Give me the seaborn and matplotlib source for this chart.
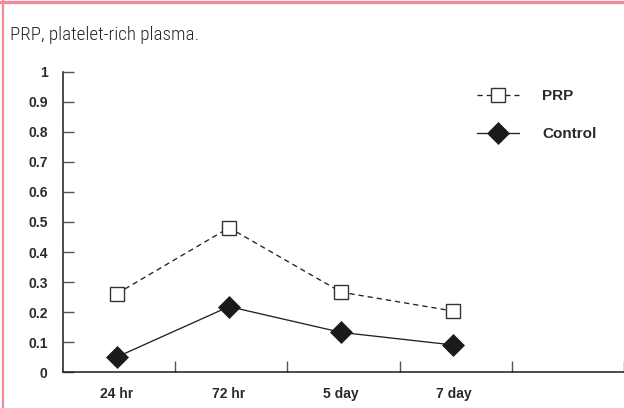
import matplotlib
matplotlib.use("Agg")
import matplotlib.pyplot as plt
from matplotlib.lines import Line2D
import seaborn as sns
import pandas as pd

# ---- data ----
times = ["24 hr", "72 hr", "5 day", "7 day"]
prp = [0.261, 0.481, 0.266, 0.203]
control = [0.050, 0.218, 0.132, 0.090]
y_ticks = [0, 0.1, 0.2, 0.3, 0.4, 0.5, 0.6, 0.7, 0.8, 0.9, 1]
y_tick_labels = ["0", "0.1", "0.2", "0.3", "0.4", "0.5", "0.6", "0.7", "0.8", "0.9", "1"]
caption = "PRP, platelet-rich plasma."

sns.set_theme(style="white")
plt.rcParams["font.family"] = ["Liberation Sans", "DejaVu Sans"]

W, H = 624, 408
fig = plt.figure(figsize=(W / 100, H / 100), dpi=100)
ax = fig.add_axes([63 / W, 36 / H, (W - 63) / W, 300 / H])

df_prp = pd.DataFrame({"time": times, "value": prp})
df_ctl = pd.DataFrame({"time": times, "value": control})

sns.lineplot(data=df_prp, x="time", y="value", ax=ax, sort=False,
             color="#222222", linewidth=0.95, linestyle=(0, (4, 3)),
             marker="s", markersize=10.5, markerfacecolor="white",
             markeredgecolor="#333333", markeredgewidth=1.0, label="PRP")
sns.lineplot(data=df_ctl, x="time", y="value", ax=ax, sort=False,
             color="#222222", linewidth=0.95, linestyle="-",
             marker="D", markersize=11, markerfacecolor="#1a1a1a",
             markeredgecolor="#1a1a1a", markeredgewidth=0.5, label="Control")

ax.set_xlim(-0.48, 4.145)
ax.set_ylim(0, 1)
ax.set_xlabel("")
ax.set_ylabel("")

for s in ["top", "right"]:
    ax.spines[s].set_visible(False)
for s in ["left", "bottom"]:
    ax.spines[s].set_color("#1a1a1a")
    ax.spines[s].set_linewidth(1.1)

ax.set_yticks(y_ticks)
ax.set_yticklabels(y_tick_labels)
ax.set_xticks(range(len(times)))
ax.set_xticklabels(times)
ax.set_xticks([i + 0.52 for i in range(len(times) + 1)], minor=True)

ax.tick_params(axis="y", which="major", direction="in", length=7.9, width=1.0,
               color="#555555", pad=11, labelsize=10, labelcolor="#2a2a2a", left=True)
ax.tick_params(axis="x", which="major", length=0, pad=10.5, labelsize=10,
               labelcolor="#2a2a2a")
ax.tick_params(axis="x", which="minor", direction="in", length=7.7, width=1.0,
               color="#555555", bottom=True)
for lab in ax.get_xticklabels() + ax.get_yticklabels():
    lab.set_fontweight("bold")

leg = ax.legend(loc="upper left", bbox_to_anchor=(477 / W, 1 - 89.5 / H),
                bbox_transform=fig.transFigure, frameon=False, borderpad=0,
                borderaxespad=0, handlelength=2.75, handletextpad=1.5,
                labelspacing=1.57, prop={"size": 11, "weight": "bold"})
for t in leg.get_texts():
    t.set_color("#2a2a2a")

fig.text(10 / W, 1 - 40 / H, caption, fontsize=13.7, color="#262626",
         va="baseline", ha="left", fontweight="light",
         family=["Roboto Condensed", "Source Sans 3", "Liberation Sans"])

# pink frame (top and left edges)
pink = "#f2899a"
fig.add_artist(Line2D([0, 1], [1 - 1.5 / H, 1 - 1.5 / H], transform=fig.transFigure,
                      color=pink, linewidth=2.4))
fig.add_artist(Line2D([3 / W, 3 / W], [0, 1], transform=fig.transFigure,
                      color=pink, linewidth=1.6))

fig.savefig("out.png", dpi=100)
